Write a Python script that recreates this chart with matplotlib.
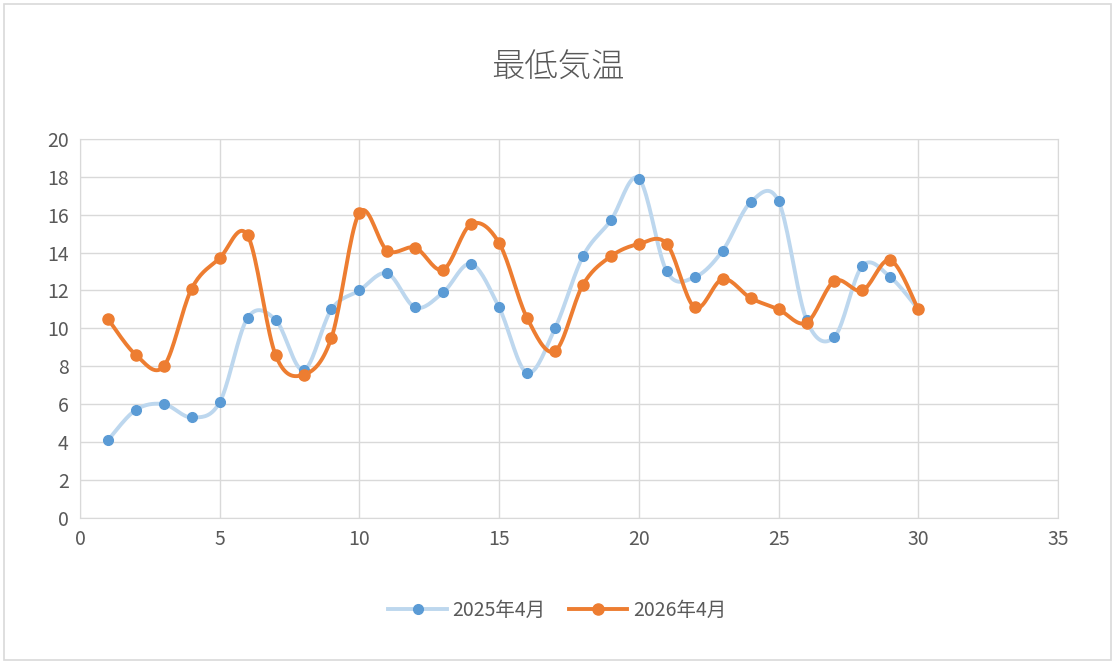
import numpy as np
import matplotlib
matplotlib.use("Agg")
import matplotlib.pyplot as plt
from matplotlib.patches import Rectangle

plt.rcParams['font.family'] = ['Noto Sans CJK JP', 'DejaVu Sans']

days = list(range(1, 31))
temps_2025 = [4.1, 5.7, 6.0, 5.3, 6.1, 10.55, 10.45, 7.8, 11.0, 12.0,
              12.9, 11.1, 11.9, 13.4, 11.1, 7.65, 10.0, 13.8, 15.7, 17.9,
              13.0, 12.7, 14.1, 16.65, 16.7, 10.45, 9.55, 13.3, 12.7, 11.0]
temps_2026 = [10.5, 8.6, 8.0, 12.1, 13.7, 14.9, 8.6, 7.55, 9.5, 16.1,
              14.1, 14.25, 13.1, 15.5, 14.5, 10.55, 8.8, 12.3, 13.8, 14.45,
              14.45, 11.1, 12.6, 11.6, 11.0, 10.3, 12.5, 12.0, 13.6, 11.0]
labels = ["2025年4月", "2026年4月"]


def smooth(x, y, n=20):
    # Excel-like smoothed line: cubic bezier with catmull-rom control points
    x = np.asarray(x, float)
    y = np.asarray(y, float)
    pts = np.column_stack([x, y])
    out = []
    for i in range(len(pts) - 1):
        p0 = pts[max(i - 1, 0)]
        p1 = pts[i]
        p2 = pts[i + 1]
        p3 = pts[min(i + 2, len(pts) - 1)]
        c1 = p1 + (p2 - p0) / 6
        c2 = p2 - (p3 - p1) / 6
        t = np.linspace(0, 1, n)[:, None]
        seg = ((1 - t) ** 3) * p1 + 3 * ((1 - t) ** 2) * t * c1 + 3 * (1 - t) * t ** 2 * c2 + t ** 3 * p2
        out.append(seg if i == 0 else seg[1:])
    seg = np.vstack(out)
    return seg[:, 0], seg[:, 1]


fig = plt.figure(figsize=(11.15, 6.64), dpi=100)
fig.patches.append(Rectangle((0.004, 0.006), 0.992, 0.988, transform=fig.transFigure,
                             fill=False, edgecolor="#d9d9d9", linewidth=1.2))
ax = fig.add_axes([0.0717, 0.22, 0.8772, 0.571])

sx, sy = smooth(days, temps_2025)
ax.plot(sx, sy, color="#bdd7ee", linewidth=2.8, zorder=3)
ax.plot(days, temps_2025, "o", color="#5b9bd5", markersize=7, zorder=4)
sx, sy = smooth(days, temps_2026)
ax.plot(sx, sy, color="#ed7d31", linewidth=2.8, zorder=5)
ax.plot(days, temps_2026, "o", color="#ed7d31", markersize=8, zorder=6)

ax.set_xlim(0, 35)
ax.set_ylim(0, 20)
ax.set_xticks(range(0, 36, 5))
ax.set_yticks(range(0, 21, 2))
ax.grid(True, color="#d9d9d9", linewidth=1)
ax.set_axisbelow(True)
for s in ax.spines.values():
    s.set_color("#d9d9d9")
ax.tick_params(length=0, labelsize=14, colors="#595959", pad=8)

fig.text(0.5, 0.898, "最低気温", ha="center", va="center", fontsize=24,
         color="#595959", fontweight="light")

h1 = plt.Line2D([], [], color="#bdd7ee", lw=2.8, marker="o", markersize=7,
                markerfacecolor="#5b9bd5", markeredgecolor="#5b9bd5")
h2 = plt.Line2D([], [], color="#ed7d31", lw=2.8, marker="o", markersize=8)
fig.legend([h1, h2], labels, loc="center", bbox_to_anchor=(0.5, 0.081), ncol=2,
           frameon=False, fontsize=14, labelcolor="#595959", handlelength=3,
           columnspacing=1.2, handletextpad=0.3)

fig.savefig("out.png", dpi=100)
